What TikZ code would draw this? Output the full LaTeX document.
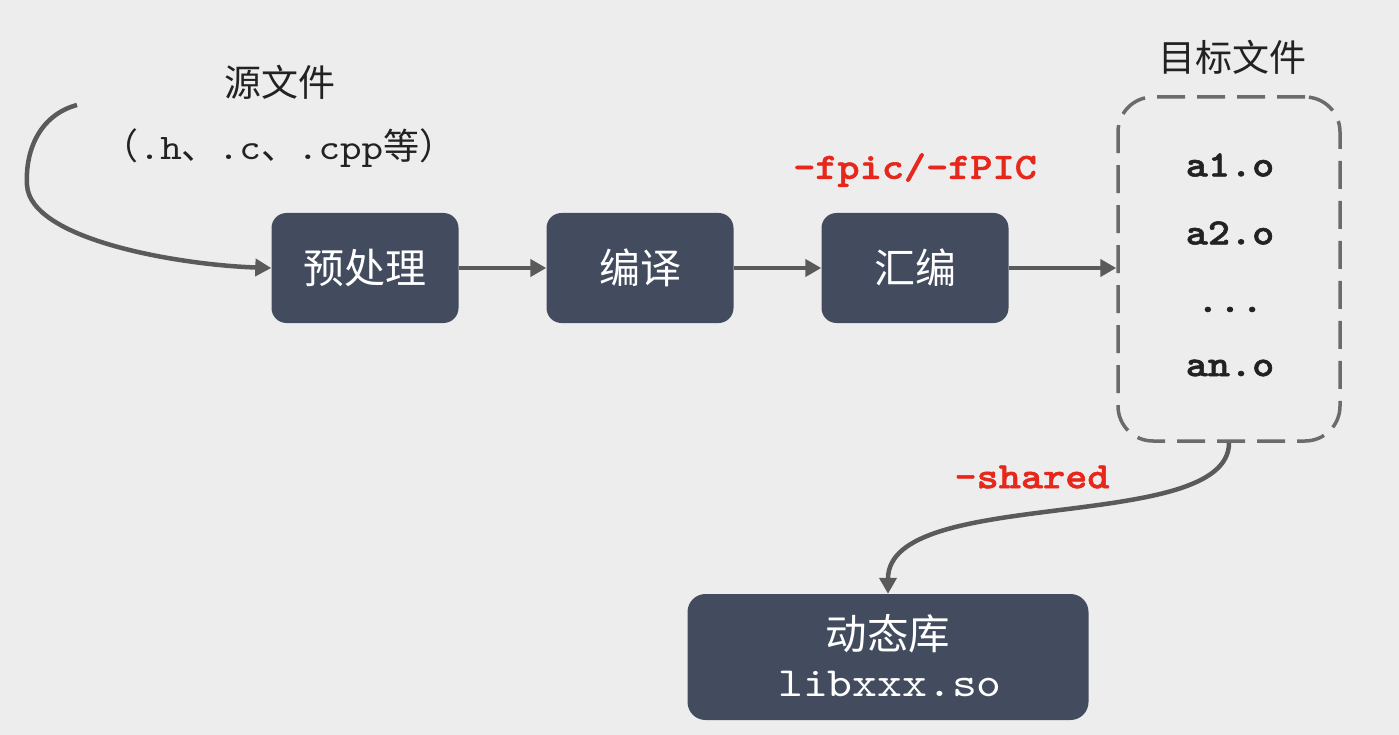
\documentclass[tikz,border=0pt]{standalone}
\usepackage{fontspec}
\setmainfont{Liberation Sans}
\newfontfamily\cjk{Noto Sans CJK SC}
\newfontfamily\cour{lmmono10-regular.otf}[FakeStretch=1.14]
\newfontfamily\courb{lmmonolt10-bold.otf}[FakeStretch=1.14,FakeBold=1.5]
\usetikzlibrary{arrows.meta}
\definecolor{bgc}{HTML}{EDEDED}
\definecolor{boxc}{HTML}{434C5F}
\definecolor{arrc}{HTML}{5A5A5A}
\definecolor{dashc}{HTML}{6B6B6B}
\definecolor{redc}{HTML}{E8271C}
\definecolor{txtc}{HTML}{222222}
\begin{document}
\begin{tikzpicture}[x=1pt,y=-1pt,
  stagebox/.style={fill=boxc,draw=none,rounded corners=15pt,minimum width=187pt,minimum height=110pt,text=white,font=\cjk\fontsize{41pt}{46pt}\selectfont,inner sep=0pt},
  flow/.style={draw=arrc,line width=4.5pt,-{Triangle[length=16pt,width=17pt]}},
  redlabel/.style={text=redc,font=\courb\fontsize{37pt}{42pt}\selectfont,inner sep=0pt},
  objtext/.style={text=txtc,font=\courb\fontsize{37pt}{42pt}\selectfont,inner sep=0pt},
  cjklabel/.style={text=txtc,font=\cjk\fontsize{37pt}{42pt}\selectfont,inner sep=0pt}
]
\useasboundingbox (0,0) rectangle (1399,735);
\fill[bgc] (0,0) rectangle (1399,735);

\node[cjklabel] (srctitle) at (280,82) {源文件};
\node[text=txtc,inner sep=0pt] (srcext) at (279,148) {\fontsize{36pt}{40pt}\selectfont{\cjk （}{\cour .h}{\cjk 、}{\cour .c}{\cjk 、}{\cour .cpp}{\cjk 等}{\cjk ）}};
\coordinate (srcstart) at (77,105);

\node[stagebox] (pre) at (365,268) {预处理};
\node[stagebox] (comp) at (640,268) {编译};
\node[stagebox] (asm) at (915,268) {汇编};

\node[draw=dashc,line width=3.5pt,dash pattern=on 28pt off 12pt,rounded corners=35pt,minimum width=222pt,minimum height=344pt,inner sep=0pt] (objs) at (1229,269) {};
\node[cjklabel] (objtitle) at (1232,57) {目标文件};
\node[objtext] (a1) at (1230,165) {a1.o};
\node[objtext] (a2) at (1230,233) {a2.o};
\node[objtext,anchor=base] (dots) at (1230,312) {...};
\node[objtext] (an) at (1230,368) {an.o};

\node[redlabel] (fpic) at (915,170) {-fpic/-fPIC};
\node[redlabel] (shared) at (1032,477) {-shared};

\node[fill=boxc,draw=none,rounded corners=18pt,minimum width=401pt,minimum height=126pt,inner sep=0pt] (lib) at (888,657) {};
\node[text=white,font=\cjk\fontsize{41.5pt}{46pt}\selectfont,inner sep=0pt] (libcn) at (888,634) {动态库};
\node[text=white,font=\cour\fontsize{41.5pt}{46pt}\selectfont,inner sep=0pt] (libname) at (890,684) {libxxx.so};

\draw[flow] (srcstart) .. controls (40,115) and (25,150) .. (27,185) .. controls (30,240) and (180,265) .. (pre.west);
\draw[flow] (pre.east) -- (comp.west);
\draw[flow] (comp.east) -- (asm.west);
\draw[flow] (asm.east) -- (objs.west |- asm.east);
\draw[flow] (objs.south) .. controls (1229,535) and (888,485) .. (lib.north);
\end{tikzpicture}
\end{document}
